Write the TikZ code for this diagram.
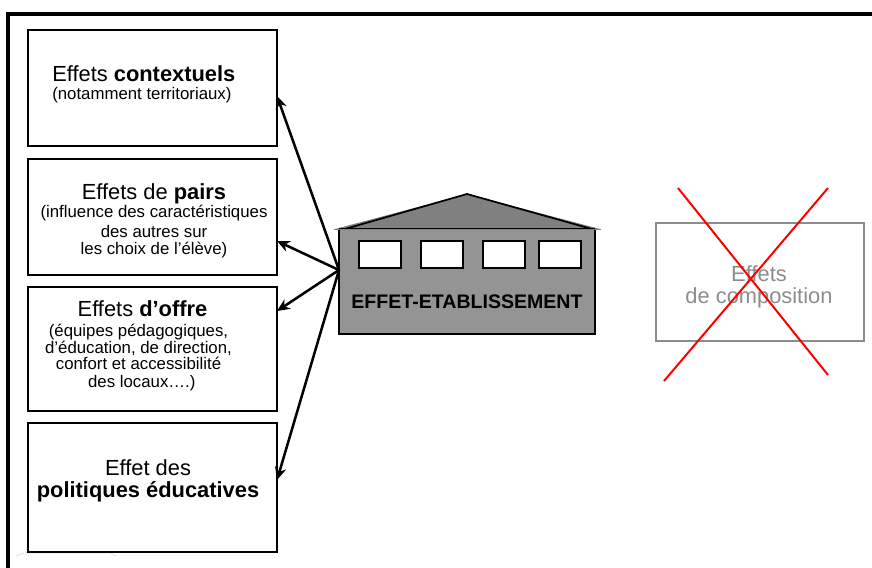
\documentclass[tikz,border=0pt]{standalone}
\usepackage{fontspec}
\setmainfont{Liberation Sans}
\usetikzlibrary{arrows.meta}
\definecolor{roofgray}{gray}{0.5}
\definecolor{wallgray}{gray}{0.58}
\definecolor{fadegray}{gray}{0.55}
\tikzset{
  x=0.75pt,y=-0.75pt,
  effectbox/.style={draw=black,line width=1.5pt,fill=white,inner sep=0pt,outer sep=0pt,anchor=north west},
  windowbox/.style={draw=black,line width=1.5pt,fill=white,inner sep=0pt,outer sep=0pt,anchor=north west,minimum width=31.5pt,minimum height=20.25pt},
  title/.style={align=center,inner sep=0pt,font=\fontsize{16.4}{17}\selectfont},
  link/.style={line width=1.9pt,-{Stealth[length=9.5pt,width=8.5pt]}},
  cross/.style={red,line width=1.5pt},
}
\newcommand{\sm}{\fontsize{12.6}{14}\selectfont}
\begin{document}
\begin{tikzpicture}
\useasboundingbox (0,0) rectangle (872,568);
\draw[line width=3pt] (8,568) -- (8,14) -- (872,14);
\draw[gray!25,line width=0.6pt] (16,556) -- (24,553) -- (110,553) -- (116,556);
% boxes
\node[effectbox,minimum width=186.75pt,minimum height=87pt] (b1) at (28,30) {};
\node[effectbox,minimum width=186.75pt,minimum height=87pt] (b2) at (28,159) {};
\node[effectbox,minimum width=186.75pt,minimum height=93pt] (b3) at (28,287) {};
\node[effectbox,minimum width=186.75pt,minimum height=96.75pt] (b4) at (28,423) {};
% box texts
\node[title,anchor=north west,align=left] (t1) at (52,65) {Effets \textbf{contextuels}\\[-3pt]\sm (notamment territoriaux)};
\node[title,anchor=north] (t2) at (154,183) {Effets de \textbf{pairs}\\[-3.2pt]\sm (influence des caractéristiques\\[-2.2pt]\sm des autres sur\\[-3.8pt]\sm les choix de l’élève)};
\node[title,anchor=north] (t3) at (138.5,300) {\kern6pt Effets \textbf{d’offre}\\[-1.75pt]\sm (équipes pédagogiques,\\[-4.2pt]\sm d’éducation, de direction,\\[-5pt]\sm confort et accessibilité\\[-3.5pt]\sm \kern5pt des locaux….)};
\node[title,anchor=north] (t4) at (148,459) {Effet des\\[0pt]\textbf{politiques éducatives}};
% house
\node[draw=black,line width=1.5pt,fill=wallgray,inner sep=0pt,outer sep=0pt,anchor=north west,minimum width=192pt,minimum height=78.75pt] (house) at (339,229) {};
\fill[roofgray] (335,229) -- (467,194) -- (600,229) -- cycle;
\draw[line width=1.3pt] (345,229) -- (467,194) -- (592,229);
\draw[line width=1.5pt] (339,229) -- (595,229);
\draw[line width=0.7pt,gray] (334,229) -- (601,229);
\node[windowbox] (w1) at (359,241) {};
\node[windowbox] (w2) at (421,241) {};
\node[windowbox] (w3) at (483,241) {};
\node[windowbox] (w4) at (539,241) {};
\node[inner sep=0pt,font=\fontsize{14.67}{16}\selectfont\bfseries] (hl) at (467,302) {EFFET-ETABLISSEMENT};
% connectors
\coordinate (s) at ([yshift=8.6pt]house.west);
\coordinate (e1) at ([yshift=-6pt]b1.east);
\coordinate (e2) at ([yshift=-18pt]b2.east);
\coordinate (e3) at ([yshift=28.5pt]b3.east);
\coordinate (e4) at ([yshift=5.6pt]b4.east);
\draw[link] (s) -- (e1);
\draw[link] (s) -- (e2);
\draw[link] (s) -- (e3);
\draw[link] (s) -- (e4);
% crossed-out box
\node[draw=fadegray,line width=1.5pt,inner sep=0pt,outer sep=0pt,anchor=north west,minimum width=156pt,minimum height=88.5pt] (c) at (656,223) {};
\node[title,text=fadegray,font=\fontsize{16.4}{16.5}\selectfont] (ct) at (759,287) {Effets\\de composition};
\coordinate (xa) at (678,188);
\coordinate (xb) at (828,375);
\coordinate (xc) at (828,188);
\coordinate (xd) at (664,381);
\draw[cross] (xa) -- (xb);
\draw[cross] (xc) -- (xd);
\end{tikzpicture}
\end{document}
